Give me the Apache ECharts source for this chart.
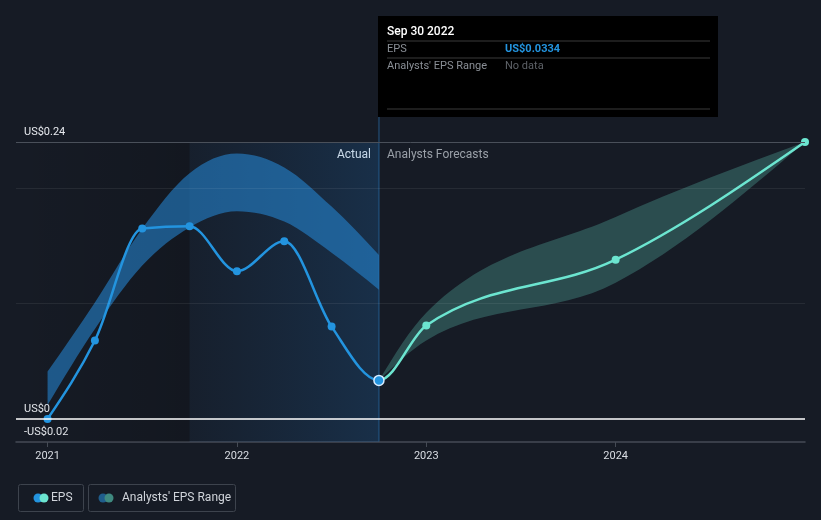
<!DOCTYPE html>
<html>
<head>
<meta charset="utf-8">
<script src="https://cdn.jsdelivr.net/npm/echarts@6/dist/echarts.min.js"></script>
<style>
html,body{margin:0;padding:0;background:#161b25;}
#c{width:821px;height:520px;}
</style>
</head>
<body>
<div id="c"></div>
<script>
// ---- data ----
const actualDates = ['2020-12-31','2021-03-31','2021-06-30','2021-09-30','2021-12-31','2022-03-31','2022-06-30','2022-09-30'];
const epsActual   = [0.000, 0.068, 0.165, 0.167, 0.128, 0.154, 0.080, 0.0334];
const rangeLow    = [0.012, 0.078, 0.133, 0.166, 0.180, 0.171, 0.144, 0.112];
const rangeHigh   = [0.041, 0.101, 0.165, 0.213, 0.230, 0.218, 0.184, 0.142];
const forecastDates = ['2022-09-30','2022-12-31','2023-12-31','2024-12-31'];
const epsForecast   = [0.0334, 0.081, 0.138, 0.240];
const forecastLow   = [0.0334, 0.068, 0.118, 0.240];
const forecastHigh  = [0.0334, 0.092, 0.175, 0.240];
const yearTicks = [2021, 2022, 2023, 2024];
const yTickValues = [-0.02, 0, 0.24];
const gridValues = [0.1, 0.2];
const tooltipDate = 'Sep 30 2022';

// period-end date -> decimal year position
function pos(d){ const p = d.split('-').map(Number); return p[0] + p[1]/12; }
function pairs(dates, vals){ return dates.map((d,i)=>[pos(d), vals[i]]); }

// monotone-x cubic segments in pixel space
function monoSegs(P){
  const n = P.length, t = new Array(n), s = [];
  for (let i=0;i<n-1;i++){ const h=P[i+1][0]-P[i][0]; s.push(h? (P[i+1][1]-P[i][1])/h : 0); }
  for (let i=1;i<n-1;i++){
    const h0=P[i][0]-P[i-1][0], h1=P[i+1][0]-P[i][0], s0=s[i-1], s1=s[i];
    const p=(s0*h1+s1*h0)/(h0+h1);
    t[i]=(Math.sign(s0)+Math.sign(s1))*Math.min(Math.abs(s0),Math.abs(s1),0.5*Math.abs(p))||0;
  }
  if (n>2){ t[0]=(3*s[0]-t[1])/2; t[n-1]=(3*s[n-2]-t[n-2])/2; } else { t[0]=t[n-1]=s[0]; }
  const segs=[];
  for (let i=0;i<n-1;i++){
    const dx=(P[i+1][0]-P[i][0])/3;
    segs.push([P[i],[P[i][0]+dx,P[i][1]+dx*t[i]],[P[i+1][0]-dx,P[i+1][1]-dx*t[i+1]],P[i+1]]);
  }
  return segs;
}
function segPath(segs){
  let d='M'+segs[0][0][0]+','+segs[0][0][1];
  segs.forEach(g=>{ d+='C'+g[1]+' '+g[2]+' '+g[3]; });
  return d;
}
function bandPath(up, lo){
  const su=monoSegs(up), sl=monoSegs(lo);
  let d=segPath(su);
  d+='L'+lo[lo.length-1][0]+','+lo[lo.length-1][1];
  for (let i=sl.length-1;i>=0;i--){ const g=sl[i]; d+='C'+g[2]+' '+g[1]+' '+g[0]; }
  return d+'Z';
}

const BLUE = '#2394df', TEAL = '#6ce5d0';
const xMin = 2020+10/12;
const splitPos = pos('2021-09-30');
const nowPos = pos(actualDates[actualDates.length-1]);
const font = 'Roboto, "Noto Sans", sans-serif';

function bandSeries(dates, lo, hi, color){
  return {
    type:'custom', silent:true, z:1, clip:false,
    data: dates.map((d,i)=>[pos(d), lo[i], hi[i]]),
    encode:{x:0, y:[1,2]},
    renderItem:function(params, api){
      if (params.dataIndex!==0) return null;
      const up = dates.map((d,i)=>api.coord([pos(d), hi[i]]));
      const dn = dates.map((d,i)=>api.coord([pos(d), lo[i]]));
      return {type:'path', shape:{pathData:bandPath(up, dn)}, style:{fill:color}};
    }
  };
}

// whole EPS history + forecast as one continuous monotone curve
const allEps = pairs(actualDates, epsActual).concat(pairs(forecastDates.slice(1), epsForecast.slice(1)));
const nActual = actualDates.length;

const chart = echarts.init(document.getElementById('c'), null, {renderer:'canvas'});

const option = {
  backgroundColor:'#161b25',
  animation:false,
  grid:{left:16, right:16, top:142, bottom:78},
  xAxis:{
    type:'value', min:xMin, max:2025,
    axisLine:{show:true, onZero:false, lineStyle:{color:'#454b55', width:1.5}},
    axisTick:{show:true, length:5, customValues:yearTicks, lineStyle:{color:'#454b55'}},
    axisLabel:{customValues:yearTicks, color:'#d9dde3', fontSize:11, fontFamily:font, margin:9, formatter:v=>String(v)},
    splitLine:{show:false}
  },
  yAxis:{
    type:'value', min:-0.02, max:0.24,
    axisLine:{show:false}, axisTick:{show:false}, splitLine:{show:false},
    axisLabel:{customValues:yTickValues, inside:true, margin:8, color:'#e6e9ee', fontSize:11, fontFamily:font,
      verticalAlign:'bottom', padding:[0,0,4,0],
      formatter:v=> v<0 ? '-US$'+Math.abs(v) : 'US$'+v}
  },
  series:[
    {
      type:'line', data:[], silent:true, z:0,
      markArea:{silent:true, data:[
        [{xAxis:xMin, yAxis:0.24, itemStyle:{color:{type:'linear',x:0,y:0,x2:1,y2:0,colorStops:[{offset:0,color:'rgba(0,0,0,0)'},{offset:1,color:'rgba(0,0,0,0.14)'}]}}},{xAxis:splitPos, yAxis:-0.02}],
        [{xAxis:splitPos, yAxis:0.24, itemStyle:{color:{type:'linear',x:0,y:0,x2:1,y2:0,colorStops:[{offset:0,color:'rgba(30,90,150,0.07)'},{offset:1,color:'rgba(30,100,165,0.28)'}]}}},{xAxis:nowPos, yAxis:-0.02}]
      ]},
      markLine:{silent:true, symbol:'none', label:{show:false}, data:[
        {yAxis:0.24, lineStyle:{color:'#4a505a', width:1, type:'solid'}},
        ...gridValues.map(v=>({yAxis:v, lineStyle:{color:'rgba(255,255,255,0.07)', width:1, type:'solid'}})),
        {yAxis:0, lineStyle:{color:'#ffffff', width:1.5, type:'solid'}}
      ]}
    },
    {
      type:'custom', silent:true, z:0, clip:false,
      data:[[nowPos, -0.02]],
      renderItem:function(params, api){
        const b = api.coord([nowPos, -0.02]);
        return {type:'line', shape:{x1:b[0], y1:b[1], x2:b[0], y2:117}, style:{stroke:'#1d3a57', lineWidth:2}};
      }
    },
    bandSeries(actualDates, rangeLow, rangeHigh, 'rgba(38,140,220,0.55)'),
    bandSeries(forecastDates, forecastLow, forecastHigh, 'rgba(108,229,208,0.25)'),
    { // EPS line (actual blue, forecast teal)
      type:'custom', silent:true, z:3, clip:false,
      data: allEps, encode:{x:0, y:1},
      renderItem:function(params, api){
        if (params.dataIndex!==0) return null;
        const pts = allEps.map(p=>api.coord(p));
        const segs = monoSegs(pts);
        return {type:'group', children:[
          {type:'path', shape:{pathData:segPath(segs.slice(0,nActual-1))}, style:{fill:'none', stroke:BLUE, lineWidth:2.5}},
          {type:'path', shape:{pathData:segPath(segs.slice(nActual-1))}, style:{fill:'none', stroke:TEAL, lineWidth:2.5}}
        ]};
      }
    },
    { type:'scatter', name:'EPS', z:4, symbolSize:8, itemStyle:{color:BLUE, opacity:1},
      data: pairs(actualDates, epsActual).map((p,i,arr)=> i===arr.length-1
        ? {value:p, symbolSize:10, itemStyle:{color:BLUE, opacity:1, borderColor:'#d8ecff', borderWidth:1.5}} : {value:p}) },
    { type:'scatter', name:'EPS forecast', z:4, symbolSize:8, itemStyle:{color:TEAL, opacity:1},
      data: pairs(forecastDates.slice(1), epsForecast.slice(1)) }
  ],
  graphic:[
    {type:'text', right:821-371, top:149, style:{text:'Actual', fill:'#ffffff', font:'12px '+font, textAlign:'right'}},
    {type:'text', left:387, top:149, style:{text:'Analysts Forecasts', fill:'#9aa0a8', font:'12px '+font}},
    {type:'group', left:378, top:16, children:[
      {type:'rect', shape:{x:0,y:0,width:340,height:101}, style:{fill:'#000000'}},
      {type:'text', x:9, y:10, style:{text:tooltipDate, fill:'#ffffff', font:'500 12px '+font}},
      {type:'line', shape:{x1:9,y1:25,x2:332,y2:25}, style:{stroke:'#3a3a3a', lineWidth:1}},
      {type:'text', x:9, y:28, style:{text:'EPS', fill:'#8a8f96', font:'11px '+font}},
      {type:'text', x:127, y:28, style:{text:'US$'+epsActual[epsActual.length-1], fill:BLUE, font:'bold 11px '+font}},
      {type:'line', shape:{x1:9,y1:42,x2:332,y2:42}, style:{stroke:'#3a3a3a', lineWidth:1}},
      {type:'text', x:9, y:45, style:{text:"Analysts' EPS Range", fill:'#8a8f96', font:'11px '+font}},
      {type:'text', x:127, y:45, style:{text:'No data', fill:'#5e6268', font:'11px '+font}},
      {type:'line', shape:{x1:9,y1:93,x2:332,y2:93}, style:{stroke:'#3a3a3a', lineWidth:1}}
    ]},
    {type:'group', left:16, top:482, children:[
      {type:'rect', shape:{x:0.5,y:0.5,width:65,height:27,r:2}, style:{fill:'none', stroke:'#3d434d', lineWidth:1}},
      {type:'circle', shape:{cx:20,cy:14,r:4.5}, style:{fill:BLUE}},
      {type:'circle', shape:{cx:26,cy:14,r:4.5}, style:{fill:TEAL}},
      {type:'text', x:33, y:8, style:{text:'EPS', fill:'#d0d4da', font:'12px '+font}},
      {type:'rect', shape:{x:70.5,y:0.5,width:147,height:27,r:2}, style:{fill:'none', stroke:'#3d434d', lineWidth:1}},
      {type:'circle', shape:{cx:85,cy:14,r:4.5}, style:{fill:'#1f5d8c'}},
      {type:'circle', shape:{cx:91,cy:14,r:4.5}, style:{fill:'#3f8a80'}},
      {type:'text', x:104, y:8, style:{text:"Analysts' EPS Range", fill:'#d0d4da', font:'12px '+font}}
    ]}
  ]
};
chart.setOption(option);
</script>
</body>
</html>
